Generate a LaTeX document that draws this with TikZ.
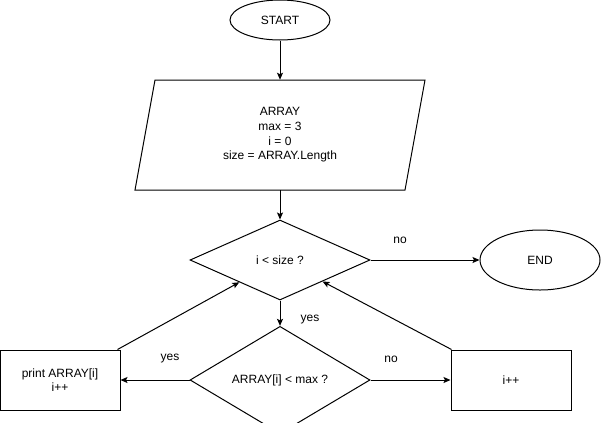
\documentclass[tikz,border=0pt]{standalone}
\usepackage{fontspec}
\setmainfont{Liberation Sans}
\usetikzlibrary{shapes.geometric,arrows.meta,calc}
\def\px{0.75pt}
\begin{document}
\begin{tikzpicture}[x=0.75pt,y=-0.75pt,
  every node/.style={font=\fontsize{9}{11}\selectfont},
  base/.style={draw,line width=0.75pt,inner sep=0pt},
  oval/.style={base,ellipse},
  dia/.style={base,diamond},
  boxnode/.style={base,rectangle,align=center,minimum width=120*\px,minimum height=60*\px},
  conn/.style={line width=0.75pt,-{Stealth[length=7*\px,width=6*\px,inset=1.5*\px]}},
  lbl/.style={inner sep=0pt}]
\useasboundingbox (0,0) rectangle (602,422);
\node[oval,minimum width=100*\px,minimum height=40*\px] (start) at (280,20) {START};
\draw[line width=0.75pt] (155,80) -- (425,80) -- (405,190) -- (135,190) -- cycle;
\node[inner sep=0pt,minimum width=250*\px,minimum height=110*\px,align=center] (init) at (280,135) {ARRAY\\max = 3\\i = 0\\size = ARRAY.Length};
\node[dia,minimum width=180*\px,minimum height=80*\px] (d1) at (280,260) {i < size ?};
\node[oval,minimum width=120*\px,minimum height=60*\px] (end) at (540,260) {END};
\node[dia,minimum width=180*\px,minimum height=80*\px] (d2) at (280,380) {ARRAY[i] < max ?};
\node[boxnode] (pb) at (60,380) {print ARRAY[i]\\i++};
\node[boxnode] (ib) at (511,380) {i++};
\node[lbl] (no1) at (400,240) {no};
\node[lbl] (yes1) at (310,320) {yes};
\node[lbl] (yes2) at (170,359) {yes};
\node[lbl] (no2) at (391,359) {no};
\draw[conn] (start) -- (init.north);
\draw[conn] (init.south) -- (d1.north);
\draw[conn] (d1.east) -- (end.west);
\draw[conn] (d1.south) -- (d2.north);
\draw[conn] (d2.west) -- (pb.east);
\draw[conn] (d2.east) -- (ib.west);
\draw[conn] ($(pb.north east)+(-3,0)$) -- ($(d1.west)!0.55!(d1.south)$);
\draw[conn] ($(ib.north west)+(1,0)$) -- ($(d1.east)!0.53!(d1.south)$);
\end{tikzpicture}
\end{document}
